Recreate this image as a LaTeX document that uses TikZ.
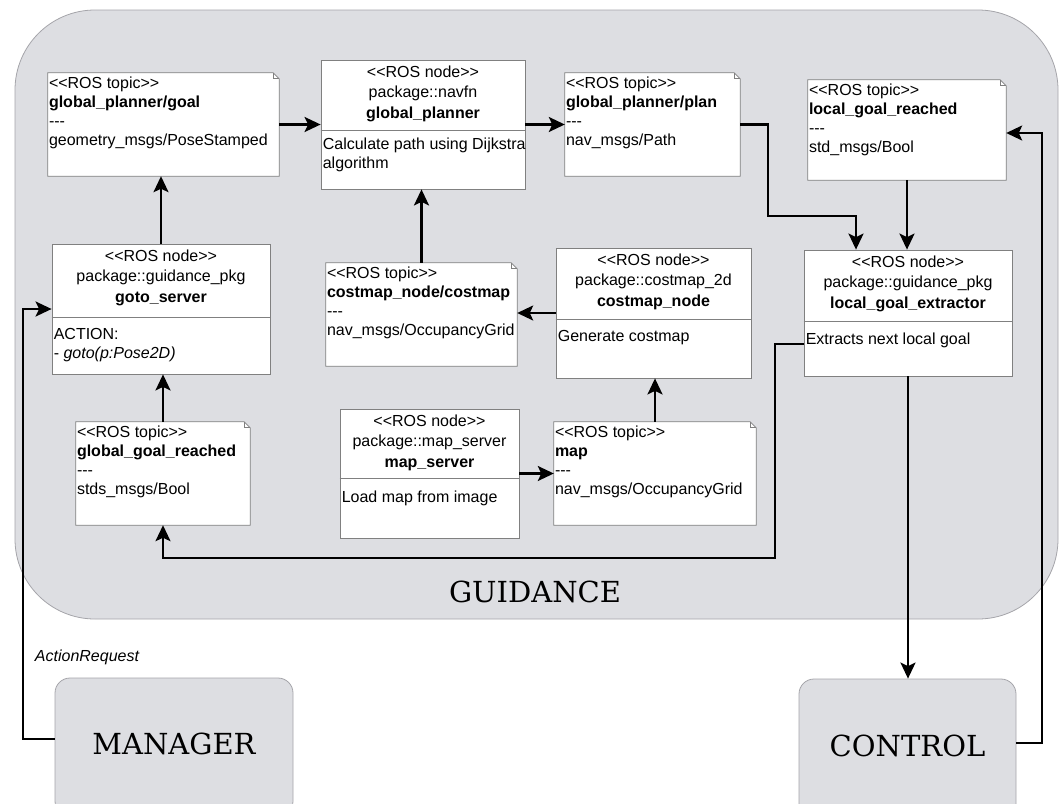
\documentclass[tikz,border=0pt]{standalone}
\usepackage{fontspec}
\setmainfont{Liberation Sans}[Ligatures=TeXOff]
\newfontfamily\titlefont{DejaVu Serif}
\usetikzlibrary{arrows.meta,calc}
\definecolor{guidegray}{RGB}{221,222,226}
\definecolor{rimgray}{RGB}{165,165,170}
\definecolor{boxgray}{RGB}{128,128,128}

\begin{document}
\begin{tikzpicture}[
    x=1pt, y=-1pt,
    frame/.style={draw=rimgray, fill=guidegray, line width=0.8pt, rounded corners=80pt},
    outer/.style={draw=rimgray, fill=guidegray, line width=0.8pt, rounded corners=15pt,
      inner sep=0pt, font=\titlefont\fontsize{29}{34}\selectfont},
    bigtext/.style={inner sep=0pt, font=\titlefont\fontsize{29}{34}\selectfont},
    rosnode/.style={draw=boxgray, fill=white, line width=0.8pt, inner sep=0pt},
    rostopic/.style={inner sep=0pt},
    divider/.style={draw=boxgray, line width=0.8pt},
    head/.style={anchor=north, inner sep=0pt, align=center, font=\fontsize{16}{20.5}\selectfont},
    body/.style={anchor=north west, inner sep=0pt, align=left, font=\fontsize{16}{19}\selectfont},
    wire/.style={-{Stealth[length=16pt,width=15pt,inset=3.5pt]}, line width=2.2pt}
  ]
  \useasboundingbox (0,0) rectangle (1062,803);

  % guidance frame
  \draw[frame] (15,10) rectangle (1058,619);
  \node[bigtext] (guidance) at (535,592) {GUIDANCE};

  % outside blocks
  \node[outer, minimum width=238pt, minimum height=138pt] (manager) at (174,747) {\raisebox{7pt}{MANAGER}};
  \node[outer, minimum width=217pt, minimum height=140pt] (control) at (907.5,749) {\raisebox{6pt}{CONTROL}};
  \node[inner sep=0pt, font=\itshape\fontsize{16}{19}\selectfont] (actreq) at (87,657) {ActionRequest};

  % ROS nodes
  \node[rosnode, minimum width=204pt, minimum height=129pt] (planner) at (423,124.5) {};
  \node[rosnode, minimum width=218pt, minimum height=130pt] (goto) at (161,309) {};
  \node[rosnode, minimum width=195pt, minimum height=130pt] (cmnode) at (653.5,313) {};
  \node[rosnode, minimum width=208pt, minimum height=126pt] (extractor) at (908,313) {};
  \node[rosnode, minimum width=179pt, minimum height=129pt] (mapsrv) at (429.5,473.5) {};

  \foreach \n/\d in {planner/71, goto/74, cmnode/72, extractor/72, mapsrv/70}{
    \draw[divider] ([yshift=-\d pt]\n.north west) -- ([yshift=-\d pt]\n.north east);
  }

  \node[head] (planner-head) at ([yshift=-6pt]planner.north) {<<ROS node>>\\package::navfn\\\textbf{global\_planner}};
  \node[body] (planner-body) at ([xshift=2pt,yshift=-78pt]planner.north west) {Calculate path using Dijkstra\\algorithm};
  \node[head] (goto-head) at ([yshift=-6pt]goto.north) {<<ROS node>>\\package::guidance\_pkg\\\textbf{goto\_server}};
  \node[body] (goto-body) at ([xshift=2pt,yshift=-85pt]goto.north west) {ACTION:\\- \textit{goto(p:Pose2D)}};
  \node[head] (cmnode-head) at ([yshift=-6pt]cmnode.north) {<<ROS node>>\\package::costmap\_2d\\\textbf{costmap\_node}};
  \node[body] (cmnode-body) at ([xshift=2pt,yshift=-83pt]cmnode.north west) {Generate costmap};
  \node[head] (extractor-head) at ([yshift=-6pt]extractor.north) {<<ROS node>>\\package::guidance\_pkg\\\textbf{local\_goal\_extractor}};
  \node[body] (extractor-body) at ([xshift=2pt,yshift=-83pt]extractor.north west) {Extracts next local goal};
  \node[head] (mapsrv-head) at ([yshift=-6pt]mapsrv.north) {<<ROS node>>\\package::map\_server\\\textbf{map\_server}};
  \node[body] (mapsrv-body) at ([xshift=2pt,yshift=-82pt]mapsrv.north west) {Load map from image};

  % ROS topics
  \node[rostopic, minimum width=231pt, minimum height=103pt] (goal) at (163.5,124.5) {};
  \node[rostopic, minimum width=175pt, minimum height=103pt] (plan) at (652.5,124.5) {};
  \node[rostopic, minimum width=198pt, minimum height=100pt] (lgr) at (907,130) {};
  \node[rostopic, minimum width=191pt, minimum height=103pt] (cmtopic) at (421.5,314.5) {};
  \node[rostopic, minimum width=174pt, minimum height=103pt] (ggr) at (163,473.5) {};
  \node[rostopic, minimum width=202pt, minimum height=103pt] (maptopic) at (655,473.5) {};

  \foreach \t in {goal,plan,lgr,cmtopic,ggr,maptopic}{
    \filldraw[divider, fill=white] (\t.north west) -- ([xshift=-6pt]\t.north east) -- ([yshift=-6pt]\t.north east)
      -- (\t.south east) -- (\t.south west) -- cycle;
    \draw[divider] ([xshift=-6pt]\t.north east) -- ([xshift=-6pt,yshift=-6pt]\t.north east) -- ([yshift=-6pt]\t.north east);
  }

  \node[body] (goal-text) at ([xshift=1pt,yshift=-4pt]goal.north west) {<<ROS topic>>\\\textbf{global\_planner/goal}\\---\\geometry\_msgs/PoseStamped};
  \node[body] (plan-text) at ([xshift=1pt,yshift=-4pt]plan.north west) {<<ROS topic>>\\\textbf{global\_planner/plan}\\---\\nav\_msgs/Path};
  \node[body] (lgr-text) at ([xshift=1pt,yshift=-4pt]lgr.north west) {<<ROS topic>>\\\textbf{local\_goal\_reached}\\---\\std\_msgs/Bool};
  \node[body] (cmtopic-text) at ([xshift=1pt,yshift=-4pt]cmtopic.north west) {<<ROS topic>>\\\textbf{costmap\_node/costmap}\\---\\nav\_msgs/OccupancyGrid};
  \node[body] (ggr-text) at ([xshift=1pt,yshift=-4pt]ggr.north west) {<<ROS topic>>\\\textbf{global\_goal\_reached}\\---\\stds\_msgs/Bool};
  \node[body] (maptopic-text) at ([xshift=1pt,yshift=-4pt]maptopic.north west) {<<ROS topic>>\\\textbf{map}\\---\\nav\_msgs/OccupancyGrid};

  % connectors
  \coordinate (planbend) at (768,216);
  \coordinate (lowbend) at (775,558);
  \coordinate (ctrlbend) at (1042,743);
  \coordinate (mgrbend) at (23,739);

  \draw[wire] (goal.east) -- (goal.east -| planner.west);
  \draw[wire] (planner.east) -- (planner.east -| plan.west);
  \draw[wire] (plan.east) -| (planbend) -| ([xshift=-52pt]extractor.north);
  \draw[wire] (lgr.south) -- (lgr.south |- extractor.north);
  \draw[wire] ([yshift=6pt]control.east) -- (ctrlbend) |- ([yshift=-3pt]lgr.east);
  \draw[wire] (extractor.south) -- (extractor.south |- control.north);
  \draw[wire] ([yshift=-31pt]extractor.west) -| (lowbend) -| (ggr.south);
  \draw[wire] (ggr.north) -- (ggr.north |- goto.south);
  \draw[wire] (goto.north) -- (goto.north |- goal.south);
  \draw[wire] (cmtopic.north) -- (cmtopic.north |- planner.south);
  \draw[wire] (cmnode.west) -- (cmnode.west -| cmtopic.east);
  \draw[wire] (maptopic.north) -- (maptopic.north |- cmnode.south);
  \draw[wire] (mapsrv.east) -- (mapsrv.east -| maptopic.west);
  \draw[wire] ([yshift=8pt]manager.west) -- (mgrbend) |- (goto.west);
\end{tikzpicture}
\end{document}
